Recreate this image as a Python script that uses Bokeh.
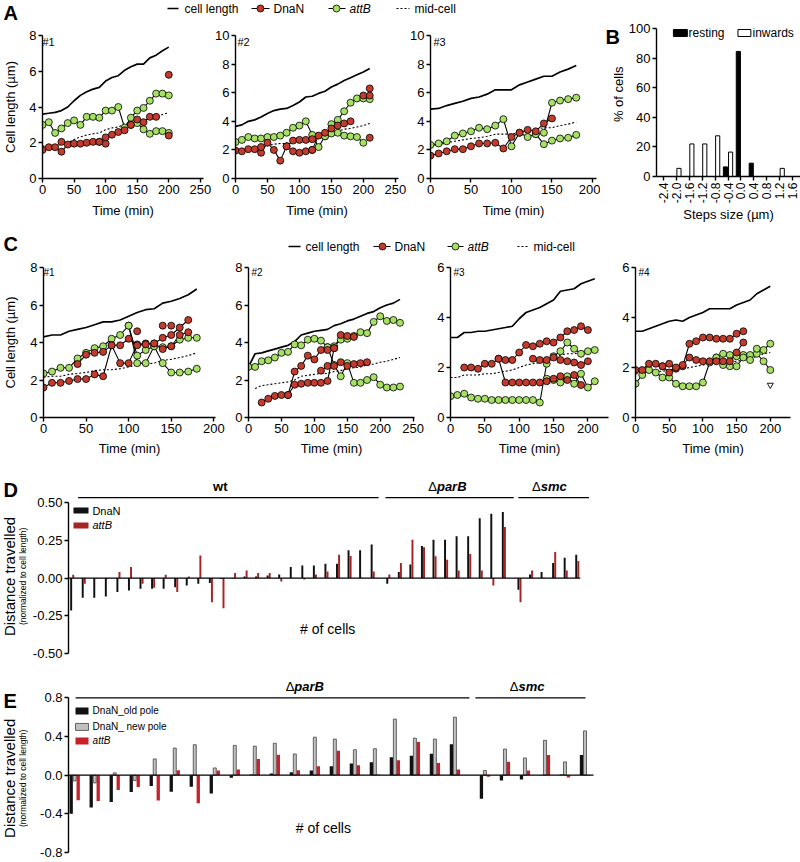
from math import pi
from bokeh.plotting import figure
from bokeh.models import ColumnDataSource, Range1d, FixedTicker, Label, NumeralTickFormatter
from bokeh.layouts import row, column
from bokeh.embed import file_html
from bokeh.resources import INLINE
from bokeh.core.properties import value

FONT = "Liberation Sans"
RED = "#c23b2c"
GREEN = "#a6e064"
BAR_RED_D = "#a82424"
BAR_RED_E = "#c8202a"
GRAY = "#c0c0c0"

# ---------------- Panel A ----------------
a1_t = [0, 10, 20, 30, 40, 50, 60, 70, 80, 90, 100, 110, 120, 130, 140, 150, 160, 170, 180, 190, 200]
a1_cell = [3.6, 3.65, 3.7, 3.8, 4.0, 4.35, 4.65, 4.85, 5.0, 5.1, 5.45, 5.65, 5.75, 6.05, 6.25, 6.4, 6.4, 6.75, 6.9, 7.15, 7.35]
a1_mid = [1.8, 1.83, 1.85, 1.9, 2.0, 2.18, 2.33, 2.43, 2.5, 2.55, 2.73, 2.83, 2.88, 3.03, 3.13, 3.2, 3.2, 3.38, 3.45, 3.58, 3.68]
a1_attb1 = [3.0, 3.15, 2.55, 2.8, 3.1, 3.25, 3.0, 3.45, 3.45, 3.4, 3.8, 3.8, 4.0, 2.85, 3.4, 3.8, 3.95, 4.35, 4.75, 4.75, 4.65]
a1_attb2_t = [140, 150, 160, 170, 180, 190, 200]
a1_attb2 = [3.0, 3.1, 2.75, 2.5, 2.65, 2.65, 2.55]
a1_dnan1_t = [0, 10, 20, 30, 40, 50, 60, 70, 80, 90, 100]
a1_dnan1 = [1.6, 1.75, 1.75, 1.5, 1.9, 1.95, 1.95, 2.0, 2.05, 2.05, 1.95]
a1_dnan2_t = [90, 100, 110, 120, 130, 140, 150, 160, 170, 180]
a1_dnan2 = [2.05, 2.3, 2.45, 2.6, 2.7, 3.0, 3.3, 3.15, 3.45, 3.45]
a1_dot_t = [30, 200, 200]
a1_dot = [2.05, 5.8, 2.4]

a2_t = [0, 10, 20, 30, 40, 50, 60, 70, 80, 90, 100, 110, 120, 130, 140, 150, 160, 170, 180, 190, 200, 210]
a2_cell = [3.65, 3.75, 4.0, 4.1, 4.3, 4.55, 4.75, 4.85, 4.9, 5.1, 5.35, 5.7, 5.75, 5.95, 6.1, 6.4, 6.6, 6.85, 7.05, 7.25, 7.45, 7.7]
a2_mid = [1.85, 1.9, 2.0, 2.05, 2.15, 2.3, 2.4, 2.45, 2.45, 2.55, 2.7, 2.85, 2.9, 3.0, 3.05, 3.2, 3.3, 3.45, 3.5, 3.6, 3.7, 3.85]
a2_attb1 = [2.55, 2.7, 2.9, 2.8, 2.8, 2.9, 2.9, 3.0, 3.2, 3.55, 3.7, 4.0, 3.05, 2.2, 2.95, 3.8, 4.1, 4.7, 5.3, 5.6, 5.6, 5.55]
a2_attb2_t = [140, 150, 160, 170, 180, 190, 200]
a2_attb2 = [2.95, 3.15, 3.2, 3.0, 2.95, 2.9, 2.5]
a2_dnan1_t = [0, 10, 20, 30, 40, 50, 60, 70, 80, 90, 100, 110, 120]
a2_dnan1 = [1.95, 1.9, 2.05, 2.05, 1.8, 2.5, 2.0, 1.25, 2.25, 1.9, 1.8, 1.9, 2.0]
a2_dnan2_t = [120, 130, 140, 150, 160, 170, 180]
a2_dnan2 = [2.0, 3.0, 3.2, 3.5, 3.7, 3.85, 4.0]
a2_dnan3_t = [80, 90, 100, 110, 120]
a2_dnan3 = [2.25, 2.65, 2.7, 2.7, 2.75]
a2_dot_t = [40, 200, 210, 210, 210]
a2_dot = [2.2, 5.8, 5.8, 6.3, 2.85]

a3_t = [0, 10, 20, 30, 40, 50, 60, 70, 80, 90, 100, 110, 120, 130, 140, 150, 160, 170, 180]
a3_cell = [4.85, 4.9, 5.1, 5.25, 5.4, 5.6, 5.7, 5.9, 6.2, 6.2, 6.2, 6.55, 6.75, 6.95, 7.15, 7.15, 7.45, 7.65, 7.9]
a3_mid = [2.3, 2.35, 2.5, 2.6, 2.7, 2.8, 2.85, 2.95, 3.1, 3.1, 3.1, 3.25, 3.35, 3.45, 3.55, 3.55, 3.7, 3.8, 3.95]
a3_attb1 = [2.35, 2.45, 2.6, 3.0, 3.15, 3.3, 3.55, 3.45, 3.7, 4.15, 2.25, 3.2, 2.9, 3.1, 3.2, 5.3, 5.45, 5.55, 5.65]
a3_attb2_t = [130, 140, 150, 160, 170, 180]
a3_attb2 = [3.1, 2.4, 2.65, 2.8, 2.85, 3.05]
a3_dnan_t = [0, 10, 20, 30, 40, 50, 60, 70, 80, 90, 100, 110, 120, 130, 140, 150]
a3_dnan = [1.6, 1.75, 1.9, 2.05, 2.05, 2.25, 2.45, 2.45, 2.5, 2.1, 2.9, 3.2, 3.4, 3.3, 3.85, 4.2]

# ---------------- Panel B ----------------
b_steps = ["-2.4", "-2.0", "-1.6", "-1.2", "-0.8", "-0.4", "0.0", "0.4", "0.8", "1.2", "1.6"]
b_resting = [0, 0, 0, 0, 0, 6.5, 84.5, 9, 0, 0, 0]
b_inwards = [0, 5.5, 22, 22, 27.5, 16.5, 0, 0, 0, 5.5, 0]

# ---------------- Panel C ----------------
c1_t = [0, 10, 20, 30, 40, 50, 60, 70, 80, 90, 100, 110, 120, 130, 140, 150, 160, 170, 180]
c1_cell = [4.3, 4.4, 4.4, 4.6, 4.7, 4.8, 4.95, 5.1, 5.1, 5.2, 5.4, 5.6, 5.75, 5.8, 6.1, 6.2, 6.35, 6.55, 6.85]
c1_mid = [2.15, 2.2, 2.2, 2.3, 2.35, 2.4, 2.5, 2.55, 2.55, 2.6, 2.7, 2.8, 2.85, 2.9, 3.05, 3.1, 3.2, 3.3, 3.45]
c1_attb1 = [2.35, 2.45, 2.65, 2.65, 3.15, 3.45, 3.7, 3.8, 4.2, 4.4, 4.9, 3.3, 3.6, 3.8, 3.75, 3.8, 4.15, 4.25, 4.25]
c1_attb2_t = [100, 110, 120, 130, 140, 150, 160, 170, 180]
c1_attb2 = [4.9, 2.9, 2.9, 3.8, 2.9, 2.4, 2.4, 2.45, 2.6]
c1_dnan1_t = [0, 10, 20, 30, 40, 50, 60, 70, 80, 90, 100, 110, 120, 130, 140, 150, 160, 170]
c1_dnan1 = [1.6, 1.85, 1.85, 1.95, 2.05, 2.05, 2.3, 2.2, 3.85, 2.9, 2.9, 3.9, 3.95, 3.95, 4.25, 4.4, 4.8, 5.2]
c1_dnan2_t = [40, 50, 60, 70, 80, 90, 100, 110, 120, 130, 140, 150, 160, 170]
c1_dnan2 = [2.85, 3.35, 3.45, 3.5, 3.85, 3.85, 4.2, 3.85, 3.9, 3.95, 3.65, 3.8, 4.4, 4.55]
c1_dot_t = [110, 140, 150]
c1_dot = [4.6, 4.9, 4.9]

c2_t = [0, 10, 20, 30, 40, 50, 60, 70, 80, 90, 100, 110, 120, 130, 140, 150, 160, 170, 180, 190, 200, 210, 220, 230]
c2_cell = [2.7, 3.4, 3.45, 3.55, 3.65, 3.75, 3.85, 4.05, 4.4, 4.5, 4.6, 4.65, 4.7, 4.9, 5.0, 5.15, 5.25, 5.4, 5.55, 5.65, 5.85, 6.0, 6.1, 6.3]
c2_mid_t = [10, 20, 30, 40, 50, 60, 70, 80, 90, 100, 110, 120, 130, 140, 150, 160, 170, 180, 190, 200, 210, 220, 230]
c2_mid = [1.55, 1.7, 1.75, 1.8, 1.85, 1.9, 2.0, 2.2, 2.25, 2.3, 2.35, 2.35, 2.45, 2.5, 2.6, 2.65, 2.7, 2.8, 2.85, 2.95, 3.0, 3.1, 3.2]
c2_attb1 = [2.7, 2.7, 3.0, 3.05, 3.2, 3.45, 3.5, 3.9, 3.85, 4.15, 4.2, 4.1, 3.75, 3.8, 4.15, 4.2, 4.35, 4.55, 4.5, 5.1, 5.4, 5.15, 5.2, 5.05]
c2_attb2_t = [120, 130, 140, 150, 160, 170, 180, 190, 200, 210, 220, 230]
c2_attb2 = [3.75, 2.8, 2.2, 2.9, 1.85, 1.85, 2.0, 2.15, 1.75, 1.6, 1.6, 1.65]
c2_dnan1_t = [20, 30, 40, 50, 60, 70, 80, 90, 100, 110, 120, 130]
c2_dnan1 = [0.8, 1.0, 1.15, 1.2, 1.2, 1.75, 1.8, 1.85, 1.85, 1.85, 1.95, 3.7]
c2_dnan2_t = [60, 70, 80, 90, 100, 110, 120, 130, 140, 150, 160]
c2_dnan2 = [1.2, 2.45, 2.75, 3.3, 3.1, 3.6, 3.6, 3.7, 4.4, 4.35, 4.3]
c2_dnan3_t = [110, 120, 130, 140, 150, 160, 170, 180]
c2_dnan3 = [2.5, 2.75, 2.75, 2.95, 2.75, 2.85, 2.9, 2.95]

c3_t = [0, 10, 20, 30, 40, 50, 60, 70, 80, 90, 100, 110, 120, 130, 140, 150, 160, 170, 180, 190, 200, 210]
c3_cell = [3.2, 3.2, 3.4, 3.4, 3.45, 3.45, 3.5, 3.55, 3.6, 3.65, 3.95, 4.2, 4.3, 4.4, 4.55, 4.7, 5.05, 5.1, 5.15, 5.35, 5.45, 5.55]
c3_mid = [1.6, 1.6, 1.7, 1.7, 1.7, 1.75, 1.75, 1.8, 1.85, 1.9, 2.0, 2.1, 2.15, 2.2, 2.3, 2.35, 2.5, 2.55, 2.55, 2.6, 2.65, 2.7]
c3_attb1 = [0.85, 0.9, 0.95, 0.8, 0.75, 0.75, 0.7, 0.7, 0.7, 0.7, 0.7, 0.7, 0.7, 0.6, 2.15, 2.45, 2.65, 3.0, 2.75, 2.55, 2.65, 2.7]
c3_attb2_t = [140, 150, 160, 170, 180, 190, 200, 210]
c3_attb2 = [1.55, 1.5, 1.4, 1.65, 1.35, 1.75, 1.2, 1.45]
c3_dnan1_t = [20, 30, 40, 50, 60, 70, 80, 90, 100, 110, 120, 130, 140, 150, 160, 170, 180, 190, 200]
c3_dnan1 = [2.0, 2.0, 1.95, 2.15, 2.15, 2.35, 2.3, 2.3, 2.6, 2.9, 2.85, 2.95, 3.05, 3.0, 3.2, 3.45, 3.5, 3.65, 3.5]
c3_dnan2_t = [70, 80, 90, 100, 110, 120, 130, 140, 150, 160, 170, 180, 190]
c3_dnan2 = [2.35, 1.4, 1.4, 1.4, 1.4, 1.4, 1.4, 1.45, 1.55, 1.65, 1.5, 1.7, 1.3]
c3_dnan3_t = [120, 130, 140, 150, 160, 170, 180, 190, 200]
c3_dnan3 = [2.35, 2.3, 2.3, 2.4, 2.3, 2.25, 2.2, 2.1, 2.25]

c4_t = [0, 10, 20, 30, 40, 50, 60, 70, 80, 90, 100, 110, 120, 130, 140, 150, 160, 170, 180, 190, 200]
c4_cell = [3.45, 3.45, 3.55, 3.65, 3.75, 3.85, 3.9, 3.85, 4.0, 4.1, 4.2, 4.35, 4.35, 4.35, 4.35, 4.5, 4.6, 4.7, 4.95, 5.1, 5.25]
c4_mid = [1.75, 1.75, 1.8, 1.85, 1.85, 1.9, 1.95, 1.95, 2.0, 2.05, 2.1, 2.15, 2.2, 2.2, 2.2, 2.25, 2.3, 2.35, 2.45, 2.55, 2.6]
c4_attb1 = [1.35, 1.7, 1.9, 1.8, 1.6, 1.6, 1.35, 1.25, 1.25, 1.25, 1.4, 2.2, 2.4, 2.55, 2.5, 2.45, 2.5, 2.5, 2.55, 2.25, 1.9]
c4_attb2_t = [120, 130, 140, 150, 160, 170, 180, 190, 200]
c4_attb2 = [2.4, 2.1, 2.05, 2.05, 2.4, 2.3, 2.75, 2.7, 2.95]
c4_dnan1_t = [0, 10, 20, 30, 40, 50, 60, 70, 80, 90, 100, 110, 120, 130, 140, 150, 160]
c4_dnan1 = [1.9, 1.9, 2.15, 2.15, 2.05, 2.15, 1.95, 2.05, 2.95, 3.05, 3.2, 3.2, 3.15, 3.15, 3.15, 3.35, 3.45]
c4_dnan2_t = [40, 50, 60, 70, 80, 90, 100, 110, 120, 130, 140, 150, 160]
c4_dnan2 = [2.05, 1.8, 2.0, 2.1, 2.4, 2.3, 2.25, 2.25, 2.25, 2.25, 2.25, 2.6, 3.0]
c4_tri_t = [200]
c4_tri = [1.3]

# ---------------- Panel D ----------------
d_groups = ["wt", "parB", "smc"]
d_group_sizes = [27, 11, 6]
d_dnan = [-0.215, -0.13, -0.13, -0.122, -0.093, -0.082, -0.07, -0.07, -0.07, -0.06, -0.049, -0.038, -0.033, -0.005,
          -0.003, 0.01, 0.01, 0.018, 0.024, 0.073, 0.084, 0.084, 0.095, 0.095, 0.184, 0.184, 0.223,
          -0.038, 0.04, 0.09, 0.212, 0.254, 0.254, 0.277, 0.277, 0.396, 0.427, 0.438,
          -0.077, 0.024, 0.04, 0.1, 0.135, 0.155]
d_attb = [0.022, -0.038, -0.005, -0.005, 0.04, 0.073, -0.038, -0.064, 0.022, -0.093, 0.01, 0.15, -0.16, -0.2,
          0.033, 0.05, 0.033, 0.033, -0.022, 0.003, -0.01, 0.024, 0.044, 0.155, 0.146, 0.002, 0.044,
          0.024, 0.1, 0.254, 0.204, 0.144, 0.122, 0.051, 0.16, 0.051, -0.049, 0.338,
          -0.16, 0.051, 0.003, 0.173, 0.051, 0.113]

# ---------------- Panel E ----------------
e_groups = ["parB", "smc"]
e_group_sizes = [20, 6]
e_old = [-0.40, -0.335, -0.277, -0.174, -0.113, -0.171, -0.12, -0.19, -0.027, 0.007, 0.017, 0.031, 0.048, 0.092,
         0.12, 0.133, 0.185, 0.2, 0.222, 0.321,
         -0.243, -0.055, -0.044, 0.002, 0.007, 0.209]
e_new = [-0.06, -0.08, 0.024, -0.055, 0.168, 0.28, 0.315, 0.075, 0.308, 0.3, 0.33, 0.219, 0.393, 0.373,
         0.263, 0.273, 0.58, 0.383, 0.373, 0.6,
         0.048, 0.27, 0.178, 0.36, 0.137, 0.458]
e_attb = [-0.26, -0.267, -0.154, -0.123, -0.263, 0.051, -0.29, 0.048, 0.058, 0.168, 0.212, 0.051, 0.092, 0.253,
          0.103, 0.007, 0.154, 0.342, 0.126, 0.058,
          -0.017, 0.14, 0.048, 0.209, -0.024, 0.005]


# ---------------- helpers ----------------
def base_fig(w, h, bl, br, bt, bb, xr, yr, **kw):
    p = figure(width=w, height=h, x_range=Range1d(*xr), y_range=Range1d(*yr),
               output_backend="svg", toolbar_location=None,
               min_border_left=bl, min_border_right=br, min_border_top=bt, min_border_bottom=bb, **kw)
    p.grid.visible = False
    p.outline_line_color = None
    p.background_fill_color = "white"
    p.border_fill_color = "white"
    return p


def strip(x0, y0, w, h):
    """A blank figure whose data coordinates equal page pixels (y downward)."""
    s = figure(width=w, height=h, x_range=Range1d(x0, x0 + w), y_range=Range1d(y0 + h, y0),
               x_axis_type=None, y_axis_type=None, output_backend="svg", toolbar_location=None,
               min_border=0, min_border_left=0, min_border_right=0, min_border_top=0, min_border_bottom=0)
    s.grid.visible = False
    s.outline_line_color = None
    s.background_fill_color = "white"
    s.border_fill_color = "white"
    return s


def stext(s, x, y, text, size="13px", style="normal", align="left", angle=0.0):
    s.text(x=[x], y=[y], text=[text], text_font=value(FONT), text_font_size=value(size),
           text_font_style=value(style), text_align=align, text_baseline="middle",
           angle=angle, text_color="black")


def style_axes(p, fs="13px"):
    for ax in p.axis:
        ax.axis_line_width = 1.4
        ax.axis_line_color = "black"
        ax.major_tick_line_width = 1.4
        ax.major_tick_line_color = "black"
        ax.major_tick_out = 4
        ax.major_tick_in = 0
        ax.minor_tick_line_color = None
        ax.major_label_text_font = FONT
        ax.major_label_text_font_size = fs
        ax.major_label_text_color = "black"
        ax.major_label_standoff = 2
        ax.axis_label_text_font = FONT
        ax.axis_label_text_font_size = "13px"
        ax.axis_label_text_font_style = "normal"
        ax.axis_label_text_color = "black"
        ax.axis_label_standoff = 6


def lab(p, x, y, text, size="13px", style="normal", align="center", baseline="middle",
        units="canvas", x_offset=0):
    p.add_layout(Label(x=x, y=y, x_units=units, y_units=units, text=text, text_font=FONT,
                       text_font_size=size, text_font_style=style, text_align=align,
                       text_baseline=baseline, text_color="black", x_offset=x_offset))


def cell_panel(w, h, bl, br, bt, bb, xmax, ymax, xticks, yticks, t, cell, mid_t, mid,
               attb, dnan, dots=None, tri=None, title_standoff=6):
    p = base_fig(w, h, bl, br, bt, bb, (0, xmax), (0, ymax))
    p.line(x="t", y="y", source=ColumnDataSource(dict(t=t, y=cell)), line_color="black", line_width=1.7)
    p.line(x="t", y="y", source=ColumnDataSource(dict(t=mid_t, y=mid)), line_color="black",
           line_width=1.1, line_dash="2 2")
    srcs_g = [ColumnDataSource(dict(t=tt, y=yy)) for tt, yy in attb]
    srcs_r = [ColumnDataSource(dict(t=tt, y=yy)) for tt, yy in dnan]
    for s in srcs_g + srcs_r:
        p.line(x="t", y="y", source=s, line_color="black", line_width=1.1)
    for s in srcs_g:
        p.scatter(x="t", y="y", source=s, marker="circle", size=7, fill_color=GREEN,
                  line_color="black", line_width=0.8)
    for s in srcs_r:
        p.scatter(x="t", y="y", source=s, marker="circle", size=7, fill_color=RED,
                  line_color="black", line_width=0.8)
    if dots is not None:
        p.scatter(x="t", y="y", source=ColumnDataSource(dict(t=dots[0], y=dots[1])), marker="circle",
                  size=7, fill_color=RED, line_color="black", line_width=0.8)
    if tri is not None:
        p.scatter(x="t", y="y", source=ColumnDataSource(dict(t=tri[0], y=tri[1])),
                  marker="inverted_triangle", size=6, fill_color="white", line_color="black", line_width=0.9)
    p.xaxis.ticker = FixedTicker(ticks=xticks)
    p.yaxis.ticker = FixedTicker(ticks=yticks)
    p.xaxis.axis_label = "Time (min)"
    style_axes(p)
    p.xaxis.axis_label_standoff = title_standoff
    return p


def draw_legend(s, y, xs):
    (c0, c1, ct), (d0, d1, dm, dt), (g0, g1, gm, gt), (m0, m1, mt) = xs
    s.segment(x0=[c0], y0=[y], x1=[c1], y1=[y], line_color="black", line_width=1.7)
    s.segment(x0=[d0, g0], y0=[y, y], x1=[d1, g1], y1=[y, y], line_color="black", line_width=1.1)
    s.segment(x0=[m0], y0=[y], x1=[m1], y1=[y], line_color="black", line_width=1.1, line_dash="2 2")
    s.scatter(x=[dm], y=[y], marker="circle", size=7, fill_color=RED, line_color="black", line_width=0.8)
    s.scatter(x=[gm], y=[y], marker="circle", size=7, fill_color=GREEN, line_color="black", line_width=0.8)
    stext(s, ct, y, "cell length", size="12px")
    stext(s, dt, y, "DnaN", size="12px")
    stext(s, gt, y, "attB", size="12px", style="italic")
    stext(s, mt, y, "mid-cell", size="12px")


# ---------------- Row 1: A + B ----------------
stripA = strip(0, 0, 600, 28)
stext(stripA, 3, 12.5, "A", size="20px", style="bold")
draw_legend(stripA, 8, [(167, 178, 184), (251, 269, 260, 273), (328, 345, 336, 349), (396, 409, 414)])

pA1 = cell_panel(211, 197, 40, 8, 7, 47, 255, 8, [0, 50, 100, 150, 200, 250], [0, 2, 4, 6, 8],
                 a1_t, a1_cell, a1_t, a1_mid,
                 [(a1_t, a1_attb1), (a1_attb2_t, a1_attb2)],
                 [(a1_dnan1_t, a1_dnan1), (a1_dnan2_t, a1_dnan2)], dots=(a1_dot_t, a1_dot))
pA1.yaxis.axis_label = "Cell length (\u00b5m)"
pA1.yaxis.axis_label_standoff = 8
lab(pA1, 42, 13, "#1", size="11px", align="left")

pA2 = cell_panel(195, 197, 24, 8, 7, 47, 255, 10, [0, 50, 100, 150, 200, 250], [0, 2, 4, 6, 8, 10],
                 a2_t, a2_cell, a2_t, a2_mid,
                 [(a2_t, a2_attb1), (a2_attb2_t, a2_attb2)],
                 [(a2_dnan1_t, a2_dnan1), (a2_dnan2_t, a2_dnan2), (a2_dnan3_t, a2_dnan3)],
                 dots=(a2_dot_t, a2_dot))
lab(pA2, 26, 13, "#2", size="11px", align="left")

pA3 = cell_panel(194, 197, 24, 4, 7, 47, 205, 10, [0, 50, 100, 150, 200], [0, 2, 4, 6, 8, 10],
                 a3_t, a3_cell, a3_t, a3_mid,
                 [(a3_t, a3_attb1), (a3_attb2_t, a3_attb2)],
                 [(a3_dnan_t, a3_dnan)])
lab(pA3, 27, 13, "#3", size="11px", align="left")

stripB = strip(600, 0, 25, 225)
stext(stripB, 605, 12.5, "B", size="20px", style="bold")
stext(stripB, 618, 100, "% of cells", size="13px", align="center", angle=pi / 2)

pB = base_fig(175, 225, 30, 0, 28, 48, (-0.54, 10.615), (0, 100))
res_x = [i - 0.2 for i, v in enumerate(b_resting) if v > 0]
res_v = [v for v in b_resting if v > 0]
inw_x = [i + 0.2 for i, v in enumerate(b_inwards) if v > 0]
inw_v = [v for v in b_inwards if v > 0]
pB.vbar(x=res_x, top=res_v, width=0.32, bottom=0, fill_color="black", line_color="black", line_width=1)
pB.vbar(x=inw_x, top=inw_v, width=0.32, bottom=0, fill_color="white", line_color="black", line_width=1)
pB.quad(left=[0.77, 5.77], right=[1.85, 6.77], top=[99.3, 99.3], bottom=[94.6, 94.6],
        fill_color=["black", "white"], line_color="black", line_width=1)
pB.xaxis.ticker = FixedTicker(ticks=list(range(len(b_steps))))
pB.xaxis.major_label_overrides = {i: s for i, s in enumerate(b_steps)}
pB.xaxis.major_label_orientation = pi / 2
pB.yaxis.ticker = FixedTicker(ticks=[0, 20, 40, 60, 80, 100])
style_axes(pB)
pB.xaxis.major_label_text_font_size = "12px"
pB.xaxis.axis_label = "Steps size (\u00b5m)"
pB.xaxis.axis_label_standoff = 1
lab(pB, 63, 32.5, "resting", size="12px", align="left")
lab(pB, 127, 32.5, "inwards", size="12px", align="left")

# ---------------- Row 2: C ----------------
stripC = strip(0, 225, 800, 35)
stext(stripC, 3, 243.5, "C", size="20px", style="bold")
draw_legend(stripC, 246, [(288, 300, 305), (373, 390, 382, 394), (447, 463, 455, 467), (517, 528, 533)])

pC1 = cell_panel(226, 200, 40, 11, 7, 43, 202, 8, [0, 50, 100, 150, 200], [0, 2, 4, 6, 8],
                 c1_t, c1_cell, c1_t, c1_mid,
                 [(c1_t, c1_attb1), (c1_attb2_t, c1_attb2)],
                 [(c1_dnan1_t, c1_dnan1), (c1_dnan2_t, c1_dnan2)], dots=(c1_dot_t, c1_dot),
                 title_standoff=5)
pC1.yaxis.axis_label = "Cell length (\u00b5m)"
pC1.yaxis.axis_label_standoff = 9
lab(pC1, 43, 12, "#1", size="10px", align="left")

pC2 = cell_panel(200, 200, 22, 12, 7, 43, 252, 8, [0, 50, 100, 150, 200, 250], [0, 2, 4, 6, 8],
                 c2_t, c2_cell, c2_mid_t, c2_mid,
                 [(c2_t, c2_attb1), (c2_attb2_t, c2_attb2)],
                 [(c2_dnan1_t, c2_dnan1), (c2_dnan2_t, c2_dnan2), (c2_dnan3_t, c2_dnan3)],
                 title_standoff=5)
lab(pC2, 25, 12, "#2", size="10px", align="left")

pC3 = cell_panel(186, 200, 24, 4, 7, 43, 230, 6, [0, 50, 100, 150, 200], [0, 2, 4, 6],
                 c3_t, c3_cell, c3_t, c3_mid,
                 [(c3_t, c3_attb1), (c3_attb2_t, c3_attb2)],
                 [(c3_dnan1_t, c3_dnan1), (c3_dnan2_t, c3_dnan2), (c3_dnan3_t, c3_dnan3)],
                 title_standoff=5)
lab(pC3, 27, 12, "#3", size="10px", align="left")

pC4 = cell_panel(188, 200, 23, 10, 7, 43, 230, 6, [0, 50, 100, 150, 200], [0, 2, 4, 6],
                 c4_t, c4_cell, c4_t, c4_mid,
                 [(c4_t, c4_attb1), (c4_attb2_t, c4_attb2)],
                 [(c4_dnan1_t, c4_dnan1), (c4_dnan2_t, c4_dnan2)], tri=(c4_tri_t, c4_tri),
                 title_standoff=5)
lab(pC4, 26, 12, "#4", size="10px", align="left")

# ---------------- Row 3: D ----------------
pos_d = []
for g, n in enumerate(d_group_sizes):
    start = sum(d_group_sizes[:g])
    pos_d += [start + k + g * 0.35 for k in range(n)]
d_line_start = [0.6, 27.2, 38.7]
d_line_end = [26.6, 38.3, 44.8]
d_label_x = [12.9, 32.6, 41.4]

stripD = strip(0, 460, 28, 203)
stext(stripD, 3, 483, "D", size="20px", style="bold")
stext(stripD, 9, 578, "Distance travelled", size="15px", align="center", angle=pi / 2)
stext(stripD, 22, 578, "(normalized to cell length)", size="8.5px", align="center", angle=pi / 2)

pD = base_fig(576, 203, 40, 4, 9, 10, (-0.23, 45.8), (-0.5, 0.72), x_axis_type=None)
pD.vbar(x=pos_d, top=d_dnan, bottom=0, width=0.17, fill_color="#111111", line_color=None)
pD.vbar(x=[x + 0.18 for x in pos_d], top=d_attb, bottom=0, width=0.17, fill_color=BAR_RED_D, line_color=None)
pD.segment(x0=[-0.23], y0=[0], x1=[pos_d[-1] + 0.35], y1=[0], line_color="black", line_width=1.3)
pD.segment(x0=d_line_start, y0=[0.534] * 3, x1=d_line_end, y1=[0.534] * 3, line_color="black", line_width=1.3)
pD.quad(left=[0.2, 0.2], right=[1.5, 1.5], top=[0.468, 0.369], bottom=[0.428, 0.329],
        fill_color=["#111111", BAR_RED_D], line_color=None)
pD.yaxis.ticker = FixedTicker(ticks=[-0.5, -0.25, 0, 0.25, 0.5])
pD.yaxis.formatter = NumeralTickFormatter(format="0.00")
pD.yaxis.bounds = (-0.5, 0.5)
style_axes(pD, fs="13px")
lab(pD, d_label_x[0], 0.607, "wt", style="bold", units="data")
lab(pD, d_label_x[1], 0.607, "\u0394", units="data", align="right", x_offset=-11)
lab(pD, d_label_x[1], 0.607, "parB", style="bold italic", units="data", align="left", x_offset=-11)
lab(pD, d_label_x[2], 0.607, "\u0394", units="data", align="right", x_offset=-9)
lab(pD, d_label_x[2], 0.607, "smc", style="bold italic", units="data", align="left", x_offset=-9)
lab(pD, 1.84, 0.448, "DnaN", size="11px", align="left", units="data")
lab(pD, 1.84, 0.349, "attB", size="11px", style="italic", align="left", units="data")
lab(pD, 22.2, -0.34, "# of cells", size="14px", units="data")

# ---------------- Row 4: E ----------------
pos_e = []
for g, n in enumerate(e_group_sizes):
    start = sum(e_group_sizes[:g])
    pos_e += [start + k + g * 0.5 for k in range(n)]
e_line_start = [0.22, 20.2]
e_line_end = [19.9, 25.7]
e_label_x = [11.7, 22.8]

stripE = strip(0, 663, 28, 197)
stext(stripE, 3, 688, "E", size="20px", style="bold")
stext(stripE, 9, 776, "Distance travelled", size="15px", align="center", angle=pi / 2)
stext(stripE, 22, 776, "(normalized to cell length)", size="8.5px", align="center", angle=pi / 2)

pE = base_fig(580, 197, 40, 7, 15, 8, (-0.135, 26.5), (-0.8, 1.0), x_axis_type=None)
pE.vbar(x=pos_e, top=e_old, bottom=0, width=0.165, fill_color="#111111", line_color=None)
pE.vbar(x=[x + 0.175 for x in pos_e], top=e_new, bottom=0, width=0.15, fill_color=GRAY,
        line_color="#444444", line_width=0.8)
pE.vbar(x=[x + 0.35 for x in pos_e], top=e_attb, bottom=0, width=0.165, fill_color=BAR_RED_E, line_color=None)
pE.segment(x0=[-0.135], y0=[0], x1=[pos_e[-1] + 0.6], y1=[0], line_color="black", line_width=1.3)
pE.segment(x0=e_line_start, y0=[0.8, 0.8], x1=e_line_end, y1=[0.8, 0.8], line_color="black", line_width=1.3)
pE.quad(left=[0.215] * 3, right=[0.865] * 3, top=[0.7, 0.535, 0.39], bottom=[0.628, 0.463, 0.318],
        fill_color=["#111111", GRAY, BAR_RED_E], line_color=[None, "#444444", None], line_width=0.8)
pE.yaxis.ticker = FixedTicker(ticks=[-0.8, -0.4, 0, 0.4, 0.8])
pE.yaxis.formatter = NumeralTickFormatter(format="0.0")
pE.yaxis.bounds = (-0.8, 0.8)
style_axes(pE)
lab(pE, e_label_x[0], 0.915, "\u0394", units="data", align="right", x_offset=-11)
lab(pE, e_label_x[0], 0.915, "parB", style="bold italic", units="data", align="left", x_offset=-11)
lab(pE, e_label_x[1], 0.915, "\u0394", units="data", align="right", x_offset=-9)
lab(pE, e_label_x[1], 0.915, "smc", style="bold italic", units="data", align="left", x_offset=-9)
lab(pE, 1.07, 0.664, "DnaN_old pole", size="10px", align="left", units="data")
lab(pE, 1.07, 0.499, "DnaN_ new pole", size="10px", align="left", units="data")
lab(pE, 1.07, 0.354, "attB", size="10px", style="italic", align="left", units="data")
lab(pE, 12.6, -0.55, "# of cells", size="14px", units="data")

layout = column(
    row(column(stripA, row(pA1, pA2, pA3)), row(stripB, pB)),
    column(stripC, row(pC1, pC2, pC3, pC4)),
    row(stripD, pD),
    row(stripE, pE),
)

open("out.html", "w").write(file_html(layout, INLINE, "Figure"))
